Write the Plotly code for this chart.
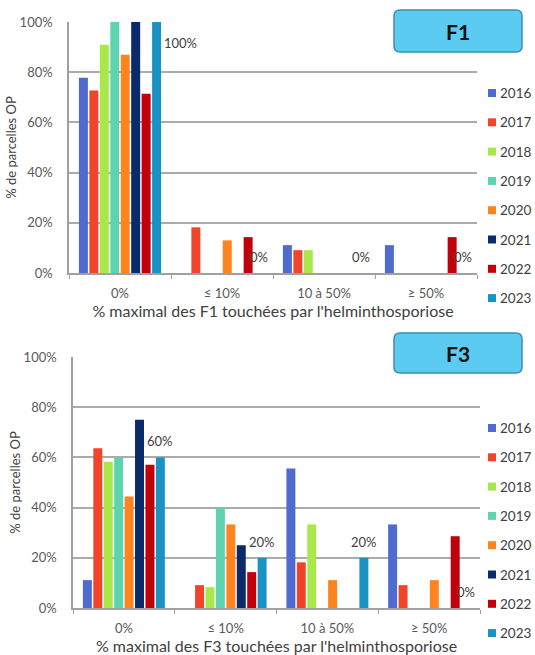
import plotly.graph_objects as go

# Categories of maximal infected leaf surface and campaign years
categories = ["0%", "≤ 10%", "10 à 50%", "≥ 50%"]
years = ["2016", "2017", "2018", "2019", "2020", "2021", "2022", "2023"]
colors = ["#4F6BD0", "#F0452A", "#A8E84A", "#5DD3B0",
          "#FF8420", "#0A2A6A", "#C0000A", "#1A92C4"]

# F1 leaf: % of observed plots per class, one list per year
f1_2016 = [77.8, 0, 11.1, 11.1]
f1_2017 = [72.7, 18.2, 9.1, 0]
f1_2018 = [90.9, 0, 9.1, 0]
f1_2019 = [100, 0, 0, 0]
f1_2020 = [87, 13, 0, 0]
f1_2021 = [100, 0, 0, 0]
f1_2022 = [71.4, 14.3, 0, 14.3]
f1_2023 = [100, 0, 0, 0]

# F3 leaf
f3_2016 = [11.1, 0, 55.6, 33.3]
f3_2017 = [63.6, 9.1, 18.2, 9.1]
f3_2018 = [58.3, 8.3, 33.3, 0]
f3_2019 = [60, 40, 0, 0]
f3_2020 = [44.4, 33.3, 11.1, 11.1]
f3_2021 = [75, 25, 0, 0]
f3_2022 = [57.1, 14.3, 0, 28.6]
f3_2023 = [60, 20, 20, 0]

f1_series = [f1_2016, f1_2017, f1_2018, f1_2019, f1_2020, f1_2021, f1_2022, f1_2023]
f3_series = [f3_2016, f3_2017, f3_2018, f3_2019, f3_2020, f3_2021, f3_2022, f3_2023]

W, H = 535, 655
FONT = "Lato"
TICK_COL = "#595959"
TITLE_COL = "#404040"
GRID_COL = "#ABABAB"
BARGAP = 0.18
BARGROUPGAP = 0.14

# panel geometry in pixels: (left, right, top, bottom)
panels = [
    dict(name="F1", series=f1_series, box=(394, 522, 10, 52),
         plot=(69, 477, 22, 273), legend_first=93, suffix=""),
    dict(name="F3", series=f3_series, box=(394, 522, 333, 373),
         plot=(73, 480, 357, 608), legend_first=428, suffix="2"),
]
LEGEND_STEP = 29.3
SWATCH_X = 492
SWATCH = 8

fig = go.Figure()
annotations = []
shapes = []

for p in panels:
    sfx = p["suffix"]
    xa = "x" + sfx
    ya = "y" + sfx
    for yr, col, vals in zip(years, colors, p["series"]):
        fig.add_trace(go.Bar(
            x=categories, y=vals, name=yr, marker_color=col,
            marker_line_width=0, xaxis=xa, yaxis=ya, showlegend=False,
            hovertemplate="%{x}: %{y:.1f}%<extra>" + yr + "</extra>",
        ))

    # year key on the right of each panel
    for k, (yr, col) in enumerate(zip(years, colors)):
        cy = p["legend_first"] + k * LEGEND_STEP
        shapes.append(dict(
            type="rect", xref="paper", yref="paper",
            x0=(SWATCH_X - SWATCH / 2) / W, x1=(SWATCH_X + SWATCH / 2) / W,
            y0=1 - (cy + SWATCH / 2) / H, y1=1 - (cy - SWATCH / 2) / H,
            fillcolor=col, line=dict(width=0)))
        annotations.append(dict(
            x=(SWATCH_X + SWATCH / 2 + 2) / W, y=1 - cy / H,
            xref="paper", yref="paper", xanchor="left", yanchor="middle",
            text=yr, showarrow=False,
            font=dict(family=FONT, size=13.5, color=TITLE_COL)))

    # data labels for the last year
    n = len(years)
    slot = (1 - BARGAP) / n
    last_center = -(1 - BARGAP) / 2 + (n - 0.5) * slot
    bar_half = slot * (1 - BARGROUPGAP) / 2
    pl, pr, pt, pb = p["plot"]
    ph = pb - pt
    for i, v in enumerate(p["series"][-1]):
        txt = f"{round(v)}%"
        top_px = v / 100 * ph + 16 + 8
        if top_px > ph:
            annotations.append(dict(
                x=i + last_center + bar_half, y=v, xref=xa, yref=ya,
                text=txt, showarrow=False, xanchor="left", yanchor="middle",
                xshift=1, yshift=-21,
                font=dict(family=FONT, size=13, color=TITLE_COL)))
        else:
            annotations.append(dict(
                x=i + last_center, y=v, xref=xa, yref=ya,
                text=txt, showarrow=False, xanchor="center", yanchor="middle",
                yshift=16,
                font=dict(family=FONT, size=13, color=TITLE_COL)))

    # rounded title box
    bl, br, bt, bb = p["box"]
    r = 6
    x0, x1 = bl / W, br / W
    y0, y1 = 1 - bb / H, 1 - bt / H
    rx, ry = r / W, r / H
    path = (f"M{x0+rx},{y1} L{x1-rx},{y1} Q{x1},{y1} {x1},{y1-ry} "
            f"L{x1},{y0+ry} Q{x1},{y0} {x1-rx},{y0} "
            f"L{x0+rx},{y0} Q{x0},{y0} {x0},{y0+ry} "
            f"L{x0},{y1-ry} Q{x0},{y1} {x0+rx},{y1} Z")
    shapes.append(dict(type="path", path=path, xref="paper", yref="paper",
                       fillcolor="#5BCBF2", line=dict(color="#3F8DB0", width=1.5),
                       layer="above"))
    annotations.append(dict(
        x=(x0 + x1) / 2, y=(y0 + y1) / 2, xref="paper", yref="paper",
        xanchor="center", yanchor="middle",
        text=f"<b>{p['name']}</b>", showarrow=False,
        font=dict(family=FONT, size=21, color="#111111")))

    axis_x = dict(
        domain=[pl / W, pr / W], anchor=ya, type="category",
        showline=True, linecolor="#A0A0A0", linewidth=1.5,
        ticks="outside", tickson="boundaries", ticklen=4, tickcolor="#A0A0A0",
        tickfont=dict(family=FONT, size=13, color=TICK_COL),
        ticklabelstandoff=8,
        title=dict(text=f"% maximal des {p['name']} touchées par l'helminthosporiose",
                   font=dict(family=FONT, size=16, color=TITLE_COL), standoff=0),
        showgrid=False, fixedrange=True,
    )
    axis_y = dict(
        domain=[1 - pb / H, 1 - pt / H], anchor=xa, range=[0, 100],
        dtick=20, ticksuffix="%", showline=True, linecolor="#A0A0A0",
        linewidth=1.5, showgrid=True, gridcolor=GRID_COL, gridwidth=1.5,
        zeroline=False, ticks="", ticklabelstandoff=12,
        tickfont=dict(family=FONT, size=13, color=TICK_COL),
        title=dict(text="% de parcelles OP",
                   font=dict(family=FONT, size=13, color=TITLE_COL), standoff=0),
        fixedrange=True,
    )
    fig.layout["xaxis" + sfx] = axis_x
    fig.layout["yaxis" + sfx] = axis_y

fig.update_layout(
    width=W, height=H,
    margin=dict(l=0, r=0, t=0, b=0, autoexpand=False),
    paper_bgcolor="white", plot_bgcolor="white",
    barmode="group", bargap=BARGAP, bargroupgap=BARGROUPGAP,
    annotations=annotations, shapes=shapes,
    font=dict(family=FONT), showlegend=False,
)

fig.write_html("out.html")
